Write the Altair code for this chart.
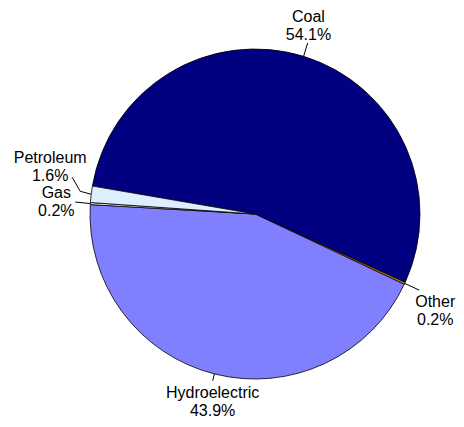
import math
import altair as alt
import pandas as pd

# ---- data ----
categories = ["Coal", "Other", "Hydroelectric", "Gas", "Petroleum"]
values = [54.1, 0.2, 43.9, 0.2, 1.6]
colors = ["#000080", "#E08000", "#8080FF", "#F4F4F4", "#DDEEFF"]

# ---- layout (chart pixel space) ----
W, H = 448, 411
CX, CY = 247, 206
R = 165
START_DEG = -80.25
# leader geometry: radial length, or list of (dx, dy) steps after the edge point
leader_steps = {
    "Coal": 179,
    "Other": 181,
    "Hydroelectric": 172,
    "Gas": [(-15, -1.5)],
    "Petroleum": [(-11, -3), (-8, -14)],
}
label_offsets = {
    "Coal": (0.7, -21),
    "Other": (16, 17),
    "Hydroelectric": (0, 17),
    "Gas": (-19, -4),
    "Petroleum": (-22, -14),
}

total = sum(values)
pie = pd.DataFrame({"cat": categories, "value": values, "idx": range(len(values))})

segs = []
labels = []
cum = 0.0
for c, v in zip(categories, values):
    mid = math.radians(START_DEG + 360 * (cum + v / 2) / total)
    cum += v
    ex, ey = CX + R * math.sin(mid), CY - R * math.cos(mid)
    pts = [(ex, ey)]
    step = leader_steps[c]
    if isinstance(step, (int, float)):
        pts.append((CX + step * math.sin(mid), CY - step * math.cos(mid)))
    else:
        for dx, dy in step:
            px, py = pts[-1]
            pts.append((px + dx, py + dy))
    for (x1, y1), (x2, y2) in zip(pts[:-1], pts[1:]):
        segs.append({"x": x1, "y": y1, "x2": x2, "y2": y2})
    lx, ly = pts[-1]
    ox, oy = label_offsets[c]
    labels.append({"x": lx + ox, "y": ly + oy, "text": f"{c}\n{v:.1f}%"})

segs = pd.DataFrame(segs)
labels = pd.DataFrame(labels)

xs = alt.Scale(domain=[0, W], nice=False, zero=False)
ys = alt.Scale(domain=[0, H], nice=False, zero=False, reverse=True)

start = math.radians(START_DEG)
arc = alt.Chart(pie).mark_arc(outerRadius=R, stroke="black", strokeWidth=0.8).encode(
    theta=alt.Theta("value:Q", stack=True, scale=alt.Scale(range=[start, start + 2 * math.pi])),
    order=alt.Order("idx:Q"),
    color=alt.Color("cat:N", scale=alt.Scale(domain=categories, range=colors), legend=None),
    x=alt.value(CX),
    y=alt.value(CY),
)

rules = alt.Chart(segs).mark_rule(color="black", strokeWidth=1).encode(
    x=alt.X("x:Q", scale=xs, axis=None),
    y=alt.Y("y:Q", scale=ys, axis=None),
    x2="x2:Q",
    y2="y2:Q",
)

text = alt.Chart(labels).mark_text(
    font="Liberation Sans", fontSize=16, lineBreak="\n", lineHeight=18,
    align="center", baseline="alphabetic", color="black",
).encode(
    x=alt.X("x:Q", scale=xs, axis=None),
    y=alt.Y("y:Q", scale=ys, axis=None),
    text="text:N",
)

chart = alt.layer(arc, rules, text).properties(
    width=W, height=H, autosize=alt.AutoSizeParams(type="none"), padding=0
).configure_view(stroke=None)

chart.save("out.html", embed_options={"renderer": "svg", "actions": False})
